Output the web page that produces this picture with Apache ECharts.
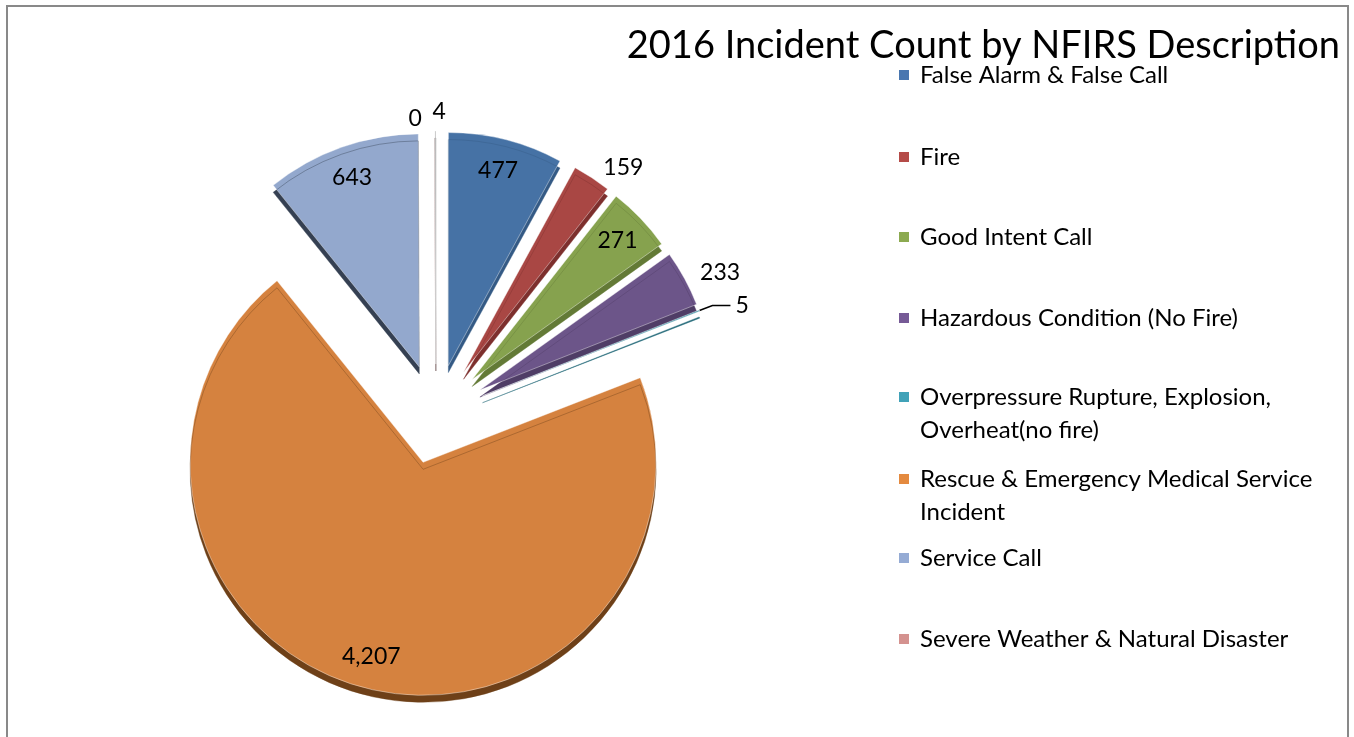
<!DOCTYPE html>
<html>
<head>
<meta charset="utf-8">
<script src="https://cdn.jsdelivr.net/npm/echarts@6/dist/echarts.min.js"></script>
<style>
  html, body { margin: 0; padding: 0; background: #fff; }
  #main { width: 1354px; height: 737px; }
</style>
</head>
<body>
<div id="main"></div>
<script>
// 2016 incident counts by NFIRS description
var categories = [
    'False Alarm & False Call',
    'Fire',
    'Good Intent Call',
    'Hazardous Condition (No Fire)',
    'Overpressure Rupture, Explosion, Overheat(no fire)',
    'Rescue & Emergency Medical Service Incident',
    'Service Call',
    'Severe Weather & Natural Disaster',
    'Special Incident Type'
];
var counts = [477, 159, 271, 233, 5, 4207, 643, 0, 4];

// legend shows the first 8 entries (the last one is cut off in the original)
var legendNames = categories.slice(0, 8);
var legendText = {
    'Overpressure Rupture, Explosion, Overheat(no fire)': 'Overpressure Rupture, Explosion,\nOverheat(no fire)',
    'Rescue & Emergency Medical Service Incident': 'Rescue & Emergency Medical Service\nIncident'
};

var colors = ['#4672a5', '#a94744', '#86a24e', '#6c5589', '#3b8fa2', '#d5823f', '#93a8cd', '#d99694', '#a6a6a6'];
var sides = ['#345a85', '#7d2f2d', '#637a36', '#4f3d66', '#2b6f7e', '#6e4018', '#354052', '#a06a68', '#777777'];
var legendColors = ['#4a77b0', '#b54b48', '#8caa50', '#765a96', '#41a2b8', '#e48a3f', '#95abd4', '#d4928f'];

var outsideLabels = ['Fire', 'Hazardous Condition (No Fire)',
    'Overpressure Rupture, Explosion, Overheat(no fire)',
    'Severe Weather & Natural Disaster', 'Special Incident Type'];

var center = [436, 414];
var R = 233;
var explode = 50;
var lineH = 33;
var legendCenters = [75, 157, 237, 318, 397, 479, 558, 639];

var legends = legendNames.map(function (name, i) {
    var twoLine = !!legendText[name];
    return {
        left: 899,
        top: legendCenters[i] - (twoLine ? lineH * 1.5 : lineH / 2),
        orient: 'vertical',
        padding: 0,
        itemGap: 0,
        itemWidth: 10,
        itemHeight: 10,
        icon: 'rect',
        selectedMode: false,
        data: [{ name: name, itemStyle: { color: legendColors[i], borderWidth: 0 } }],
        formatter: function (n) { return legendText[n] || n; },
        textStyle: {
            fontFamily: 'Lato',
            fontSize: 24,
            color: '#000',
            lineHeight: lineH,
            padding: [twoLine ? lineH : 0, 0, 0, 6],
            rich: { t: {} }
        }
    };
});

var option = {
    backgroundColor: '#ffffff',
    animation: false,
    title: {
        text: '2016 Incident Count by NFIRS Description',
        right: 14,
        top: 27,
        padding: 0,
        textStyle: {
            fontFamily: 'Lato',
            fontSize: 38,
            fontWeight: 'normal',
            color: '#000'
        }
    },
    legend: legends,
    graphic: [{
        type: 'rect',
        shape: { x: 7, y: 6, width: 1341, height: 760 },
        style: { fill: 'none', stroke: '#898989', lineWidth: 2 },
        silent: true
    }],
    series: [
        {
            name: 'slices',
            type: 'pie',
            center: center,
            radius: R,
            startAngle: 90,
            clockwise: true,
            selectedMode: 'multiple',
            selectedOffset: explode,
            silent: true,
            emphasis: { disabled: true },
            label: { show: false },
            labelLine: { show: false },
            itemStyle: {
                borderColor: 'rgba(255,255,255,0.4)',
                borderWidth: 1
            },
            data: categories.map(function (c, i) {
                return {
                    name: c,
                    value: counts[i],
                    selected: true,
                    itemStyle: {
                        color: colors[i],
                        shadowColor: sides[i],
                        shadowOffsetY: 7,
                        shadowOffsetX: 0,
                        shadowBlur: 0
                    }
                };
            })
        },
        {
            // transparent ring that only carries the data labels
            name: 'labels',
            type: 'pie',
            center: center,
            radius: [R * 0.7, R],
            startAngle: 90,
            clockwise: true,
            selectedMode: 'multiple',
            selectedOffset: explode,
            avoidLabelOverlap: false,
            silent: true,
            emphasis: { disabled: true },
            itemStyle: { color: 'transparent', borderWidth: 0 },
            label: {
                color: '#000',
                fontFamily: 'Lato',
                fontSize: 23,
                formatter: function (p) { return p.value.toLocaleString('en-US'); }
            },
            labelLine: {
                length: 12,
                length2: 0,
                lineStyle: { color: '#000', width: 1.5 }
            },
            labelLayout: function (p) {
                if (p.dataIndex === 7) {
                    return { dx: -8 };
                }
                if (p.dataIndex === 8) {
                    return { align: 'left', dx: 2, dy: -7 };
                }
            },
            data: categories.map(function (c, i) {
                var out = outsideLabels.indexOf(c) >= 0;
                var withLine = c === 'Overpressure Rupture, Explosion, Overheat(no fire)';
                return {
                    name: c,
                    value: counts[i],
                    selected: true,
                    label: { position: out ? 'outside' : 'inside' },
                    labelLine: withLine
                        ? { show: true, length: 14, length2: 18 }
                        : { show: false }
                };
            })
        }
    ]
};

var chart = echarts.init(document.getElementById('main'));
chart.setOption(option);
</script>
</body>
</html>
